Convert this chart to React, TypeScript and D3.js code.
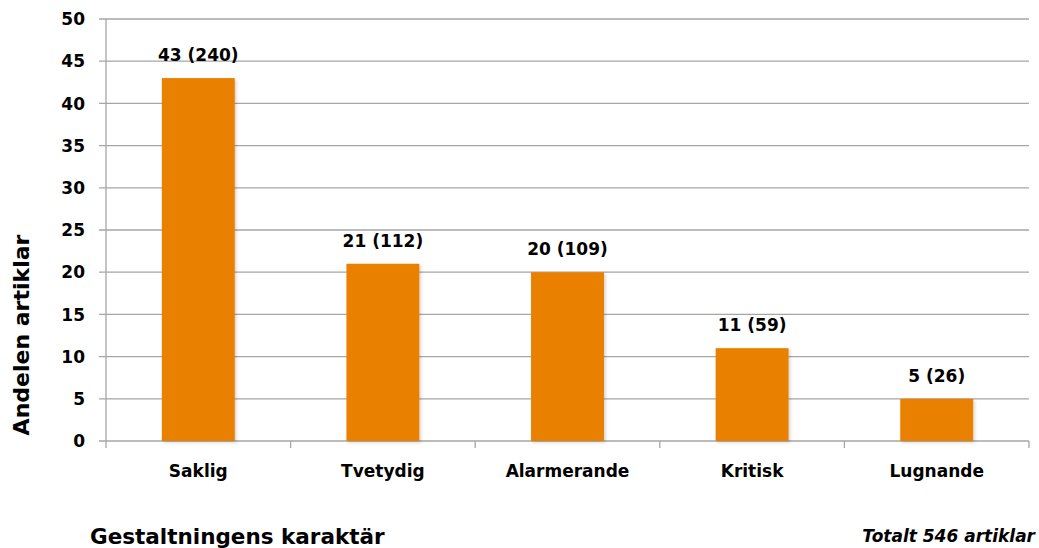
import React from "react";
import * as d3 from "d3";

const categories = ["Saklig", "Tvetydig", "Alarmerande", "Kritisk", "Lugnande"];
const shares = [43, 21, 20, 11, 5];
const counts = [240, 112, 109, 59, 26];
const yTicks = [0, 5, 10, 15, 20, 25, 30, 35, 40, 45, 50];

const W = 1039;
const H = 548;
const m = { top: 19, right: 10, bottom: 107, left: 106 };
const font = "'DejaVu Sans', 'Liberation Sans', sans-serif";
const grid = "#a6a6a6";
const orange = "#ea8006";

export default function App() {
  const x = d3
    .scaleBand()
    .domain(categories)
    .range([m.left, W - m.right])
    .paddingInner(0.605)
    .paddingOuter(0.3025);
  const y = d3.scaleLinear().domain([0, 50]).range([H - m.bottom, m.top]);
  const bottom = y(0);
  const step = x.step();
  const boundaries = d3.range(categories.length + 1).map((i) => m.left + i * step);

  return (
    <div style={{ position: "absolute", left: 0, top: 0 }}>
      <svg width={W} height={H} style={{ display: "block", background: "#fff" }}>
        <defs>
          <filter id="sh" x="-20%" y="-20%" width="140%" height="140%">
            <feDropShadow dx="1.5" dy="1.5" stdDeviation="1.5" floodColor="#000" floodOpacity="0.18" />
          </filter>
        </defs>
        {/* grid + y ticks */}
        {yTicks.map((t) => (
          <g key={t}>
            <line x1={m.left - 7} x2={W - m.right} y1={y(t)} y2={y(t)} stroke={grid} strokeWidth={1.3} />
            <text
              x={m.left - 21}
              y={y(t)}
              dy="0.36em"
              textAnchor="end"
              fontFamily={font}
              fontWeight="bold"
              fontSize={17}
              fill="#000"
            >
              {t}
            </text>
          </g>
        ))}
        <line x1={m.left} x2={m.left} y1={y(50)} y2={bottom} stroke={grid} strokeWidth={1.3} />
        {boundaries.map((b, i) => (
          <line key={i} x1={b} x2={b} y1={bottom} y2={bottom + 7} stroke={grid} strokeWidth={1.3} />
        ))}

        {/* bars */}
        {categories.map((c, i) => (
          <g key={c}>
            <rect
              x={x(c)}
              y={y(shares[i])}
              width={x.bandwidth()}
              height={bottom - y(shares[i])}
              fill={orange}
              filter="url(#sh)"
            />
            <text
              x={(x(c) ?? 0) + x.bandwidth() / 2}
              y={y(shares[i]) - 17}
              textAnchor="middle"
              fontFamily={font}
              fontWeight="bold"
              fontSize={17}
              fill="#000"
            >
              {`${shares[i]} (${counts[i]})`}
            </text>
            <text
              x={(x(c) ?? 0) + x.bandwidth() / 2}
              y={bottom + 36}
              textAnchor="middle"
              fontFamily={font}
              fontWeight="bold"
              fontSize={17}
              fill="#000"
            >
              {c}
            </text>
          </g>
        ))}

        {/* titles */}
        <text
          transform={`translate(29,335) rotate(-90)`}
          textAnchor="middle"
          fontFamily={font}
          fontWeight="bold"
          fontSize={22}
          fill="#000"
        >
          Andelen artiklar
        </text>
        <text x={90} y={544} fontFamily={font} fontWeight="bold" fontSize={21.5} fill="#000">
          Gestaltningens karaktär
        </text>
        <text
          x={1035}
          y={542}
          textAnchor="end"
          fontFamily={font}
          fontWeight="bold"
          fontStyle="italic"
          fontSize={17}
          fill="#000"
        >
          Totalt 546 artiklar
        </text>
      </svg>
    </div>
  );
}
